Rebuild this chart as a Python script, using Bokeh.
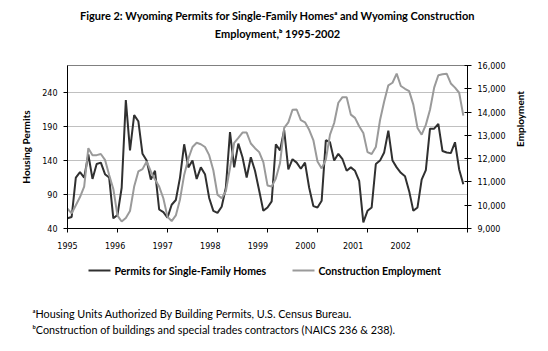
from bokeh.plotting import figure
from bokeh.layouts import column
from bokeh.models import (Range1d, LinearAxis, FixedTicker, Label,
                          NumeralTickFormatter)
from bokeh.embed import file_html
from bokeh.resources import INLINE

# ---------------- data (monthly, Jan 1995 - Dec 2002) ----------------
years = [1995, 1996, 1997, 1998, 1999, 2000, 2001, 2002]
permits = [
    55, 57, 115, 123, 115, 149, 113, 135, 137, 120, 115, 55,      # 1995
    60, 100, 229, 155, 207, 198, 150, 140, 112, 125, 68, 64,      # 1996
    56, 75, 82, 115, 164, 130, 140, 113, 130, 120, 85, 66,        # 1997
    63, 72, 100, 182, 130, 165, 145, 115, 145, 125, 96, 66,       # 1998
    71, 80, 164, 155, 185, 127, 142, 137, 128, 137, 100, 73,      # 1999
    71, 81, 170, 167, 140, 150, 142, 125, 130, 125, 110, 49,      # 2000
    66, 71, 135, 140, 152, 184, 140, 130, 122, 117, 95, 66,       # 2001
    71, 112, 126, 187, 187, 194, 154, 152, 151, 167, 127, 105,    # 2002
]
employment = [
    9850, 9650, 10000, 10350, 10800, 12450, 12150, 12150, 12200, 11950, 11300, 10700,
    9550, 9300, 9450, 9750, 10800, 11450, 11550, 11880, 11450, 11100, 10800, 10300,
    9500, 9320, 9560, 10250, 11300, 12000, 12500, 12680, 12620, 12500, 12150, 11500,
    10450, 10300, 10600, 11600, 12680, 12890, 13120, 13120, 12650, 12450, 12280, 11850,
    10850, 10800, 11150, 11800, 13320, 13560, 14100, 14110, 13650, 13560, 13240, 12800,
    11880, 11580, 11950, 13030, 13530, 14400, 14640, 14640, 13890, 13750, 13390, 13100,
    12280, 12200, 12500, 13650, 14450, 15150, 15260, 15650, 15120, 15000, 14900, 14320,
    13320, 13030, 13450, 14100, 15050, 15580, 15620, 15650, 15230, 15050, 14830, 13850,
]
permit_ticks = [40, 90, 140, 190, 240]
emp_ticks = [9000, 10000, 11000, 12000, 13000, 14000, 15000, 16000]
series_names = ["Permits for Single-Family Homes", "Construction Employment"]
title_lines = ["Figure 2: Wyoming Permits for Single-Family Homes\u1d43 and Wyoming Construction",
               "Employment,\u1d47 1995-2002"]
footnotes = ["\u1d43Housing Units Authorized By Building Permits, U.S. Census Bureau.",
             "\u1d47Construction of buildings and special trades contractors (NAICS 236 & 238)."]

x = [years[0] + i / 12 for i in range(len(permits))]

W = 548
BOLD_FONT = "Lato"
TEXT_FONT = "Lato"
TICK_FONT = "DejaVu Sans"
DARK = "#303030"
GREY = "#9a9a9a"


def no_frame_align(f):
    try:
        f.frame_align = False
    except Exception:
        pass


def bare_figure(h):
    f = figure(width=W, height=h, output_backend="svg", toolbar_location=None,
               x_range=Range1d(0, W), y_range=Range1d(0, h),
               x_axis_type=None, y_axis_type=None, min_border=0)
    f.outline_line_color = None
    f.xgrid.visible = False
    f.ygrid.visible = False
    f.background_fill_color = "white"
    f.border_fill_color = "white"
    no_frame_align(f)
    return f


# ---------------- title strip ----------------
TOP_H = 50
top = bare_figure(TOP_H)
for txt, yy in zip(title_lines, [15, 33]):
    top.add_layout(Label(x=277, y=TOP_H - yy, text=txt,
                         text_align="center", text_baseline="middle",
                         text_font=BOLD_FONT, text_font_style="bold",
                         text_font_size="11px", text_color="black"))

# ---------------- main chart ----------------
MAIN_H = 210
p = figure(width=W, height=MAIN_H, output_backend="svg", toolbar_location=None,
           x_range=Range1d(years[0], years[-1] + 1), y_range=Range1d(40, 280),
           min_border_left=67, min_border_right=81, min_border_top=15,
           min_border_bottom=32)
no_frame_align(p)
p.extra_y_ranges = {"emp": Range1d(9000, 16000)}
# year labels drift slightly left of the year ticks, as in the original
p.extra_x_ranges = {"lab": Range1d(years[0], years[0] + 400 / 47.6)}
p.background_fill_color = "white"
p.border_fill_color = "white"
p.outline_line_color = "#808080"
p.outline_line_width = 1

p.xgrid.visible = False
p.ygrid.ticker = FixedTicker(ticks=permit_ticks[1:])
p.ygrid.grid_line_color = "#c0c0c0"
p.ygrid.grid_line_width = 1


def style_axis(ax):
    ax.axis_line_color = "black"
    ax.major_tick_line_color = "black"
    ax.minor_tick_line_color = None
    ax.major_label_text_font = TICK_FONT
    ax.major_label_text_font_size = "8px"
    ax.major_label_text_color = "black"
    ax.axis_label_text_font = BOLD_FONT
    ax.axis_label_text_font_style = "bold"
    ax.axis_label_text_font_size = "10px"
    ax.axis_label_text_color = "black"


# x axis: ticks only (labels are on a second axis)
xa = p.xaxis[0]
style_axis(xa)
xa.ticker = FixedTicker(ticks=years + [years[-1] + 1])
xa.major_label_overrides = {t: " " for t in years + [years[-1] + 1]}
xa.major_label_text_font_size = "1px"
xa.major_label_standoff = 0
xa.major_tick_in = 0
xa.major_tick_out = 4

# x axis: year labels
xl = LinearAxis(x_range_name="lab")
style_axis(xl)
xl.ticker = FixedTicker(ticks=years)
xl.axis_line_color = None
xl.major_tick_line_color = None
xl.major_tick_in = 0
xl.major_tick_out = 0
xl.major_label_standoff = 5
p.add_layout(xl, "below")

# left axis
ya = p.yaxis[0]
style_axis(ya)
ya.ticker = FixedTicker(ticks=permit_ticks)
ya.axis_label = "Housing Permits"
ya.major_tick_in = 0
ya.major_tick_out = 4
ya.major_label_standoff = 6
ya.axis_label_standoff = 7

# right axis
ra = LinearAxis(y_range_name="emp", axis_label="Employment")
style_axis(ra)
ra.ticker = FixedTicker(ticks=emp_ticks)
ra.formatter = NumeralTickFormatter(format="0,0")
ra.major_tick_in = 3
ra.major_tick_out = 4
ra.major_label_standoff = 6
ra.axis_label_standoff = 12
try:
    ra.axis_label_orientation = 1.5707963267948966
except Exception:
    pass
p.add_layout(ra, "right")

p.line(x, permits, line_color=DARK, line_width=2)
p.line(x, employment, y_range_name="emp", line_color=GREY, line_width=2)

# ---------------- legend + footnotes strip ----------------
BOT_H = 351 - TOP_H - MAIN_H
bot = bare_figure(BOT_H)
key_y = BOT_H - 10
key_x = [88, 292]
bot.segment(x0=key_x, y0=[key_y, key_y], x1=[k + 22 for k in key_x],
            y1=[key_y, key_y], line_color=[DARK, GREY], line_width=2)
for name, kx in zip(series_names, key_x):
    bot.add_layout(Label(x=kx + 26, y=key_y, text=name,
                         text_align="left", text_baseline="middle",
                         text_font=BOLD_FONT, text_font_style="bold",
                         text_font_size="10.5px", text_color="black"))

for txt, yy in zip(footnotes, [53, 69]):
    bot.add_layout(Label(x=32, y=BOT_H - yy, text=txt,
                         text_align="left", text_baseline="middle",
                         text_font=TEXT_FONT, text_font_size="10.8px",
                         text_color="black"))

page = column(top, p, bot, spacing=0)
open("out.html", "w").write(file_html(page, INLINE))
